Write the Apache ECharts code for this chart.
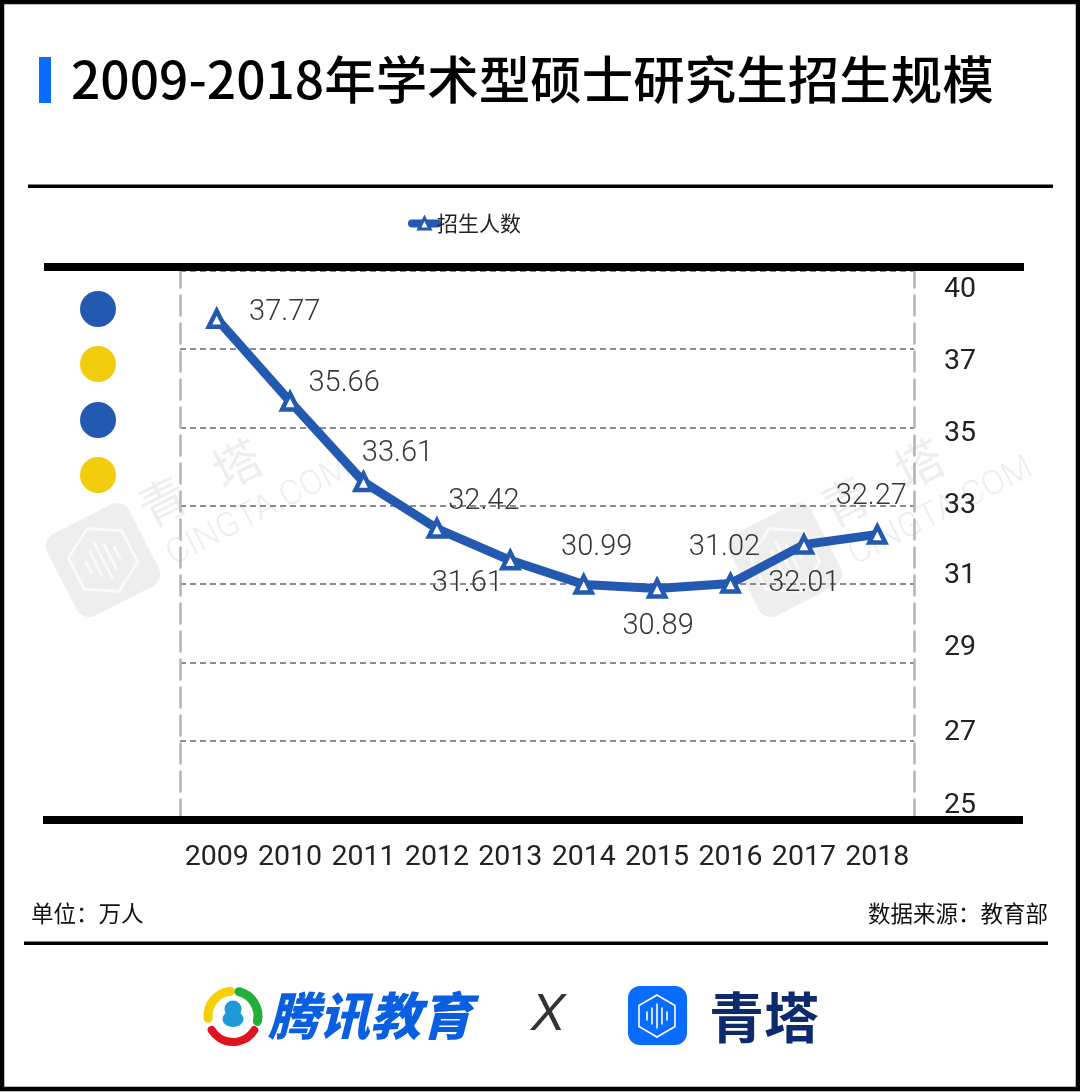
<!DOCTYPE html>
<html><head><meta charset="utf-8">
<style>html,body{margin:0;padding:0;background:#fff}#c{width:1080px;height:1092px}</style>
<script src="https://cdn.jsdelivr.net/npm/echarts@6/dist/echarts.min.js"></script>
</head><body><div id="c"></div>
<script>
const categories = ['2009','2010','2011','2012','2013','2014','2015','2016','2017','2018'];
const enrolment = [37.77,35.66,33.61,32.42,31.61,30.99,30.89,31.02,32.01,32.27];
const seriesName = '招生人数';
const tickLabels = ['40','37','35','33','31','29','27','25'];
// where the source chart happens to print each tick label, in axis units
const tickLabelAnchors = [38.50,36.66,34.83,32.99,31.21,29.37,27.20,25.34];
const labelOffsets = [[68,-6],[54,-18],[34,-28],[47,-27],[-43,23],[13,-37],[1,38],[-6,-36],[0,39],[-6,-38]];
const titleText = '2009-2018年学术型硕士研究生招生规模';
const unitText = '单位：万人';
const sourceText = '数据来源：教育部';

const FONT = '"Noto Sans CJK SC","Noto Sans",sans-serif';
const NUM = 'Roboto,"Noto Sans",sans-serif';
const BLUE = '#2359b0', YELLOW = '#f1cd0d', WM = '#eeeeee';

function hexagon(cx, cy, hw, hh) {
  const m = hh * 0.5;
  return [[cx,cy-hh],[cx+hw,cy-m],[cx+hw,cy+m],[cx,cy+hh],[cx-hw,cy+m],[cx-hw,cy-m]];
}
function watermark(x, y) {
  const s = {stroke:'#fafafa', fill:'none', lineWidth:3, lineCap:'round'};
  const bar = (bx, h) => ({type:'line', shape:{x1:bx,y1:-h,x2:bx,y2:h}, style:s});
  return {type:'group', x, y, rotation:0.47, z:0, silent:true, children:[
    {type:'rect', shape:{x:-46,y:-46,width:92,height:92,r:14}, style:{fill:WM}},
    {type:'polygon', shape:{points:hexagon(0,0,30,35)}, style:s},
    bar(-16,6), bar(-8,13), bar(0,20), bar(8,13), bar(16,6),
    {type:'text', x:80, y:-25, style:{text:'青', font:'48px '+FONT, fill:WM, align:'center', verticalAlign:'middle'}},
    {type:'text', x:163, y:-25, style:{text:'塔', font:'48px '+FONT, fill:WM, align:'center', verticalAlign:'middle'}},
    {type:'text', x:60, y:28, style:{text:'CINGTA.COM', font:'300 34px '+NUM, fill:WM, verticalAlign:'middle'}}
  ]};
}
const dots = [[98,309,BLUE],[98,364,YELLOW],[98,420,BLUE],[98,475,YELLOW]];
const wS = {stroke:'#fff', fill:'none', lineWidth:1.6, lineCap:'round'};
const logoBar = (x, h) => ({type:'line', z:6, shape:{x1:x,y1:1016-h,x2:x,y2:1016+h}, style:wS});

const graphic = [
  watermark(103,560), watermark(785,560),
  {type:'rect', z:20, silent:true, shape:{x:2,y:2,width:1076,height:1087}, style:{fill:'none',stroke:'#000',lineWidth:4.5}},
  {type:'rect', z:5, shape:{x:39,y:57,width:12,height:46}, style:{fill:'#0a6cff'}},
  {type:'rect', z:5, shape:{x:28,y:184.5,width:1025,height:3.5}, style:{fill:'#000'}},
  {type:'rect', z:5, shape:{x:24,y:941.5,width:1024,height:3.5}, style:{fill:'#000'}},
  {type:'rect', z:10, shape:{x:44,y:263,width:980,height:8}, style:{fill:'#000'}},
  {type:'rect', z:10, shape:{x:43,y:816,width:980,height:8}, style:{fill:'#000'}},
  ...dots.map(d=>({type:'circle', z:5, shape:{cx:d[0],cy:d[1],r:18}, style:{fill:d[2]}})),
  {type:'text', z:5, x:31, y:913, style:{text:unitText, font:'22.5px '+FONT, fill:'#111', verticalAlign:'middle'}},
  {type:'text', z:5, x:1048, y:913, style:{text:sourceText, font:'22.5px '+FONT, fill:'#111', align:'right', verticalAlign:'middle'}},
  // 腾讯教育 logo
  {type:'arc', z:5, shape:{cx:233,cy:1016,r:25,startAngle:3.05,endAngle:4.6}, style:{stroke:'#f6d000',fill:'none',lineWidth:9,lineCap:'round'}},
  {type:'arc', z:5, shape:{cx:233,cy:1016,r:25,startAngle:4.95,endAngle:6.5}, style:{stroke:'#22ad3c',fill:'none',lineWidth:9,lineCap:'round'}},
  {type:'arc', z:5, shape:{cx:233,cy:1017,r:25,startAngle:0.55,endAngle:2.6}, style:{stroke:'#e0141e',fill:'none',lineWidth:8,lineCap:'round'}},
  {type:'circle', z:6, shape:{cx:233,cy:1009,r:8.5}, style:{fill:'#1f9ad8'}},
  {type:'ellipse', z:6, shape:{cx:233,cy:1019,rx:10.5,ry:8}, style:{fill:'#1f9ad8'}},
  {type:'text', z:5, x:268, y:1016, style:{text:'腾讯教育', font:'italic 900 51px '+FONT, fill:'#0a5fe0', verticalAlign:'middle'}},
  {type:'text', z:5, x:548, y:1016, style:{text:'X', font:'italic 52px "Liberation Sans",sans-serif', fill:'#333', align:'center', verticalAlign:'middle'}},
  // 青塔 logo
  {type:'rect', z:5, shape:{x:628,y:986,width:59,height:59,r:12}, style:{fill:'#0a6cff'}},
  {type:'polygon', z:6, shape:{points:hexagon(657,1016,18,21)}, style:wS},
  logoBar(647,4), logoBar(652,8), logoBar(657,12), logoBar(662,8), logoBar(667,4),
  {type:'text', z:5, x:709, y:1017, style:{text:'青塔', font:'700 55px '+FONT, fill:'#0c2a6c', verticalAlign:'middle'}}
];

const chart = echarts.init(document.getElementById('c'), null, {renderer:'canvas'});
chart.setOption({
  animation:false,
  backgroundColor:'#fff',
  title:{text:titleText, left:66, top:49, textStyle:{fontFamily:FONT, fontSize:51.5, fontWeight:500, color:'#000'}},
  legend:{data:[seriesName], left:403, top:208, itemWidth:25, itemHeight:14, itemGap:0,
    lineStyle:{width:8}, itemStyle:{borderWidth:3},
    textStyle:{fontFamily:FONT, fontSize:21, color:'#222', padding:[0,0,0,-5]}},
  grid:{left:180, right:166, top:270.6, bottom:272.6},
  xAxis:{type:'category', data:categories, axisLine:{show:false}, axisTick:{show:false},
    axisLabel:{interval:0, margin:24, fontFamily:NUM, fontSize:28.5, color:'#222'}},
  yAxis:[
    {type:'value', position:'right', min:25, max:39, interval:2,
      axisLine:{show:true, lineStyle:{color:'#b4b4b4', width:2.5, type:[20,8]}}, axisTick:{show:false},
      splitLine:{show:true, lineStyle:{color:'#606c6c', width:1.5, type:[6,4]}},
      axisLabel:{customValues:tickLabelAnchors, margin:30, fontFamily:NUM, fontSize:28.5, color:'#222',
        formatter:v=>tickLabels[tickLabelAnchors.indexOf(v)]}},
    {type:'value', position:'left', min:25, max:39, interval:2,
      axisLine:{show:true, lineStyle:{color:'#b4b4b4', width:2.5, type:[20,8]}}, axisTick:{show:false},
      splitLine:{show:false}, axisLabel:{show:false}}
  ],
  series:[{
    name:seriesName, type:'line', yAxisIndex:0, z:4,
    symbol:'triangle', symbolSize:16, showAllSymbol:true,
    lineStyle:{color:BLUE, width:9, cap:'round', join:'round'},
    itemStyle:{color:'#fff', borderColor:BLUE, borderWidth:4.5},
    data:enrolment.map((v,i)=>({value:v, label:{show:true, position:'inside', offset:labelOffsets[i],
      formatter:p=>p.value.toFixed(2), fontFamily:NUM, fontWeight:300, fontSize:29, color:'#363636'}}))
  }],
  graphic:{elements:graphic}
});
</script></body></html>
